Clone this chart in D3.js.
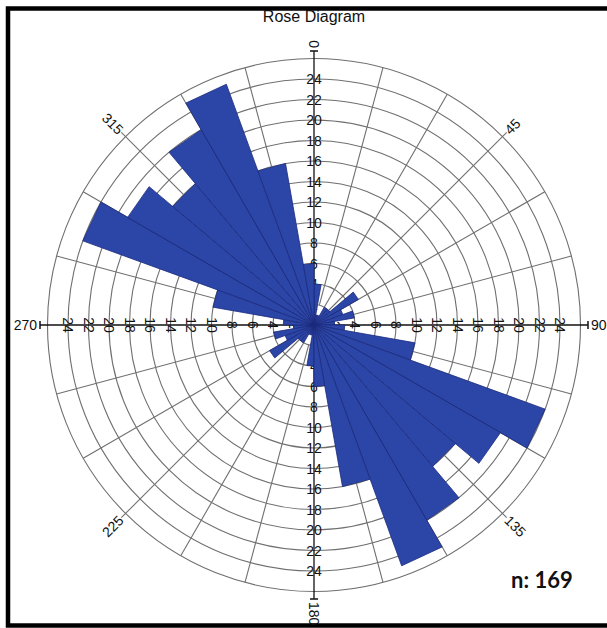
<!DOCTYPE html>
<html><head><meta charset="utf-8">
<script src="https://cdn.jsdelivr.net/npm/d3@7/dist/d3.min.js"></script>
<style>html,body{margin:0;padding:0;background:#fff}svg{display:block}</style>
</head><body>
<svg id="chart" width="607" height="628"></svg>
<script>
// ---- data ----
const title = "Rose Diagram";
const sampleCount = 169;
const binStarts = [0,10,20,30,40,50,60,70,80,90,100,110,120,130,140,150,160,170];
const binCounts = [4,1,1,2,2,5,3,4,2,3,10,24,21,18,22,25,16,6];
const binWidth = 10;
const ringValues = [2,4,6,8,10,12,14,16,18,20,22,24,26];
const ringLabels = [2,4,6,8,10,12,14,16,18,20,22,24];
const compassLabels = ["0","45","90","135","180","225","270","315"];
const compassDegrees = [0,45,90,135,180,225,270,315];
const spokeDegrees = d3.range(0,360,15);

// ---- layout ----
const svg = d3.select("#chart");
const cx = 314, cy = 325;
const r = d3.scaleLinear().domain([0,26]).range([0,266.5]);
const rad = d => d*Math.PI/180;
const polar = (deg, rr) => [cx + rr*Math.sin(rad(deg)), cy - rr*Math.cos(rad(deg))];
const FONT = "'Liberation Sans', Arial, sans-serif";

// frame
svg.append("rect").attr("x",8).attr("y",8.5).attr("width",640).attr("height",617)
  .attr("fill","none").attr("stroke","#000").attr("stroke-width",4.5);

// title
svg.append("text").attr("x",cx).attr("y",22).attr("text-anchor","middle")
  .attr("font-family",FONT).attr("font-size",16).attr("fill","#111").text(title);

const grid = svg.append("g");
// rings
grid.selectAll("circle").data(ringValues).join("circle")
  .attr("cx",cx).attr("cy",cy).attr("r",d=>r(d))
  .attr("fill","none").attr("stroke","#6f6f6f").attr("stroke-width",1.1);
// spokes
grid.selectAll("line.spoke").data(spokeDegrees.filter(d=>d%90!==0)).join("line")
  .attr("class","spoke")
  .attr("x1",d=>polar(d,r(2))[0]).attr("y1",d=>polar(d,r(2))[1])
  .attr("x2",d=>polar(d, d%45===0 ? r(26)+6 : r(26))[0])
  .attr("y2",d=>polar(d, d%45===0 ? r(26)+6 : r(26))[1])
  .attr("stroke","#6f6f6f").attr("stroke-width",1.1);

// axes
const axes = svg.append("g");
[0,90,180,270].forEach(deg=>{
  const e = polar(deg, 274);
  axes.append("line").attr("x1",cx).attr("y1",cy).attr("x2",e[0]).attr("y2",e[1])
    .attr("stroke","#111").attr("stroke-width",1.3);
  const t1 = polar(deg+90, 4), t2 = polar(deg-90, 4);
  axes.append("line")
    .attr("x1",e[0]+t1[0]-cx).attr("y1",e[1]+t1[1]-cy)
    .attr("x2",e[0]+t2[0]-cx).attr("y2",e[1]+t2[1]-cy)
    .attr("stroke","#111").attr("stroke-width",1.5);
});

// ring labels along the axes
const lab = svg.append("g").attr("font-family",FONT).attr("font-size",14).attr("fill","#111")
  .attr("text-anchor","middle").attr("dominant-baseline","central");
ringLabels.forEach(v=>{
  lab.append("text").attr("x",cx).attr("y",cy - r(v)).text(v);
  lab.append("text").attr("x",cx).attr("y",cy + r(v)).text(v);
  lab.append("text").attr("transform",`translate(${cx + r(v)},${cy}) rotate(90)`).text(v);
  lab.append("text").attr("transform",`translate(${cx - r(v)},${cy}) rotate(90)`).text(v);
});

// bars (bidirectional), drawn over the grid and axis labels
const bars = [];
binStarts.forEach((s,i)=>{
  bars.push({a0:s, a1:s+binWidth, v:binCounts[i]});
  bars.push({a0:s+180, a1:s+180+binWidth, v:binCounts[i]});
});
const line = d3.line();
svg.append("g").selectAll("path").data(bars).join("path")
  .attr("d", d => line([[cx,cy], polar(d.a0, r(d.v)), polar(d.a1, r(d.v))]) + "Z")
  .attr("fill","#2c46a8").attr("stroke","#1b2a7c").attr("stroke-width",0.8)
  .attr("stroke-linejoin","miter");

// compass labels
const cl = svg.append("g").attr("font-family",FONT).attr("font-size",14).attr("fill","#111")
  .attr("dominant-baseline","central");
compassDegrees.forEach((deg,i)=>{
  const card = deg%90===0;
  const rr = card ? 277 : 273;
  const p = polar(deg, rr);
  let rot, anchor;
  if (deg < 180) { rot = deg - 90; anchor = "start"; }
  else if (deg === 180) { rot = 90; anchor = "start"; }
  else { rot = deg - 270; anchor = "end"; }
  cl.append("text").attr("transform",`translate(${p[0]},${p[1]}) rotate(${rot})`)
    .attr("text-anchor",anchor).text(compassLabels[i]);
});

// sample size
svg.append("text").attr("x",511).attr("y",588)
  .attr("font-family","Lato, 'Open Sans', sans-serif").attr("font-weight","bold")
  .attr("font-size",22).attr("fill","#111").text("n: " + sampleCount);
</script>
</body></html>
